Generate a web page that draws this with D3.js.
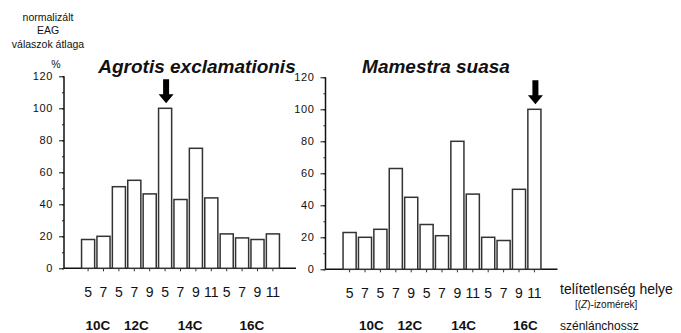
<!DOCTYPE html>
<html>
<head>
<meta charset="utf-8">
<script src="https://cdn.jsdelivr.net/npm/d3@7/dist/d3.min.js"></script>
<style>
  body { margin: 0; background: #fff; }
  svg text { font-family: Arial, "Liberation Sans", Helvetica, sans-serif; fill: #111; }
</style>
</head>
<body>
<div id="vis"></div>
<script>
// double bond position for each bar (x tick labels)
const bondPositions = ["5", "7", "5", "7", "9", "5", "7", "9", "11", "5", "7", "9", "11"];
// chain length groups, with how many bars belong to each
const chainLabels = ["10C", "12C", "14C", "16C"];
const chainSizes = [2, 3, 4, 4];

const yTicks = [0, 20, 40, 60, 80, 100, 120];

// normalised mean EAG response (%)
const agrotisValues = [18, 20, 51, 55, 46.5, 100, 43, 75, 44, 21.5, 19, 18, 21.5];
const mamestraValues = [23, 20, 25, 63, 45, 28, 21, 80, 47, 20, 18, 50, 100];

const width = 681, height = 333;

const svg = d3.select("#vis").append("svg")
  .attr("width", width)
  .attr("height", height);

/**
 * draws one panel: axis, bars, arrow over the max bar, labels
 */
function drawPanel(opts) {
  const g = svg.append("g")
    .attr("transform", "translate(" + opts.left + "," + opts.base + ")");

  const y = d3.scaleLinear().domain([0, 120]).range([0, -192]);
  const x = d3.scaleBand()
    .domain(d3.range(opts.values.length))
    .range([16.4, 16.4 + 13 * 15.4])
    .paddingInner(0.15)
    .paddingOuter(0.075);

  // minor ticks every 10
  g.append("g")
    .call(d3.axisLeft(y).tickValues(d3.range(0, 121, 10)).tickSize(2).tickFormat(""))
    .call(a => a.select(".domain").remove())
    .selectAll("line").attr("stroke", "#222");

  const yAxis = g.append("g")
    .call(d3.axisLeft(y).tickValues(yTicks).tickSize(5).tickPadding(6));
  yAxis.select(".domain").attr("stroke", "#111").attr("stroke-width", 1.5)
    .attr("d", "M0," + y(120) + "V0");
  yAxis.selectAll("line").attr("stroke", "#111");
  yAxis.selectAll("text")
    .attr("font-size", 11)
    .attr("letter-spacing", 0.6)
    .attr("fill", "#222");

  // baseline
  g.append("line")
    .attr("x1", 0).attr("x2", 232)
    .attr("y1", 0).attr("y2", 0)
    .attr("stroke", "#111").attr("stroke-width", 1.5);

  // small ticks under the bars
  g.selectAll(".xtick")
    .data(opts.values)
    .join("line")
    .attr("class", "xtick")
    .attr("x1", (d, i) => x(i) + x.bandwidth() / 2)
    .attr("x2", (d, i) => x(i) + x.bandwidth() / 2)
    .attr("y1", 0).attr("y2", 3)
    .attr("stroke", "#333");

  g.selectAll(".bar")
    .data(opts.values)
    .join("rect")
    .attr("class", "bar")
    .attr("x", (d, i) => x(i))
    .attr("width", x.bandwidth())
    .attr("y", d => y(d))
    .attr("height", d => -y(d))
    .attr("fill", "#fff")
    .attr("stroke", "#333")
    .attr("stroke-width", 1.5);

  // arrow over the 100% bar
  const top = opts.values.indexOf(d3.max(opts.values));
  const cx = x(top) + x.bandwidth() / 2 + 1;
  const tip = y(opts.values[top]) - 5;
  g.append("path")
    .attr("d", "M" + (cx - 3) + "," + (tip - 24) + "H" + (cx + 3) + "V" + (tip - 9) +
      "H" + (cx + 7.5) + "L" + cx + "," + tip + "L" + (cx - 7.5) + "," + (tip - 9) +
      "H" + (cx - 3) + "Z")
    .attr("fill", "#000");

  // bond position labels
  g.selectAll(".pos")
    .data(bondPositions)
    .join("text")
    .attr("class", "pos")
    .attr("x", (d, i) => x(i) + x.bandwidth() / 2)
    .attr("y", 29)
    .attr("text-anchor", "middle")
    .attr("font-size", 14)
    .text(d => d);

  // chain length labels, centred under their group
  let start = 0;
  chainLabels.forEach((lab, k) => {
    const first = start, last = start + chainSizes[k] - 1;
    const mid = (x(first) + x(last) + x.bandwidth()) / 2;
    g.append("text")
      .attr("x", mid + opts.chainShift)
      .attr("y", 330 - opts.base)
      .attr("text-anchor", "middle")
      .attr("font-size", 13.5)
      .attr("font-weight", "bold")
      .text(lab);
    start += chainSizes[k];
  });

  svg.append("text")
    .attr("x", opts.titleX)
    .attr("y", 73)
    .attr("text-anchor", "middle")
    .attr("font-size", 19)
    .attr("font-weight", "bold")
    .attr("font-style", "italic")
    .text(opts.title);
}

drawPanel({ left: 64, base: 268.3, values: agrotisValues, title: "Agrotis exclamationis", titleX: 197, chainShift: 2 });
drawPanel({ left: 325.5, base: 269.3, values: mamestraValues, title: "Mamestra suasa", titleX: 436, chainShift: 14 });

// y axis title
const yTitle = svg.append("text")
  .attr("text-anchor", "middle")
  .attr("font-size", 10.5);
["normalizált", "EAG", "válaszok átlaga"].forEach((t, i) => {
  yTitle.append("tspan").attr("x", 48).attr("y", 20.5 + i * 13.8).text(t);
});
svg.append("text")
  .attr("x", 56).attr("y", 68)
  .attr("text-anchor", "middle")
  .attr("font-size", 10.5)
  .text("%");

// x axis titles on the right
svg.append("text")
  .attr("x", 560).attr("y", 294)
  .attr("font-size", 14)
  .text("telítetlenség helye");
const iso = svg.append("text")
  .attr("x", 575).attr("y", 308)
  .attr("font-size", 10);
iso.append("tspan").text("[(");
iso.append("tspan").attr("font-style", "italic").text("Z");
iso.append("tspan").text(")-izomérek]");
svg.append("text")
  .attr("x", 560).attr("y", 329.5)
  .attr("font-size", 12)
  .text("szénlánchossz");
</script>
</body>
</html>
